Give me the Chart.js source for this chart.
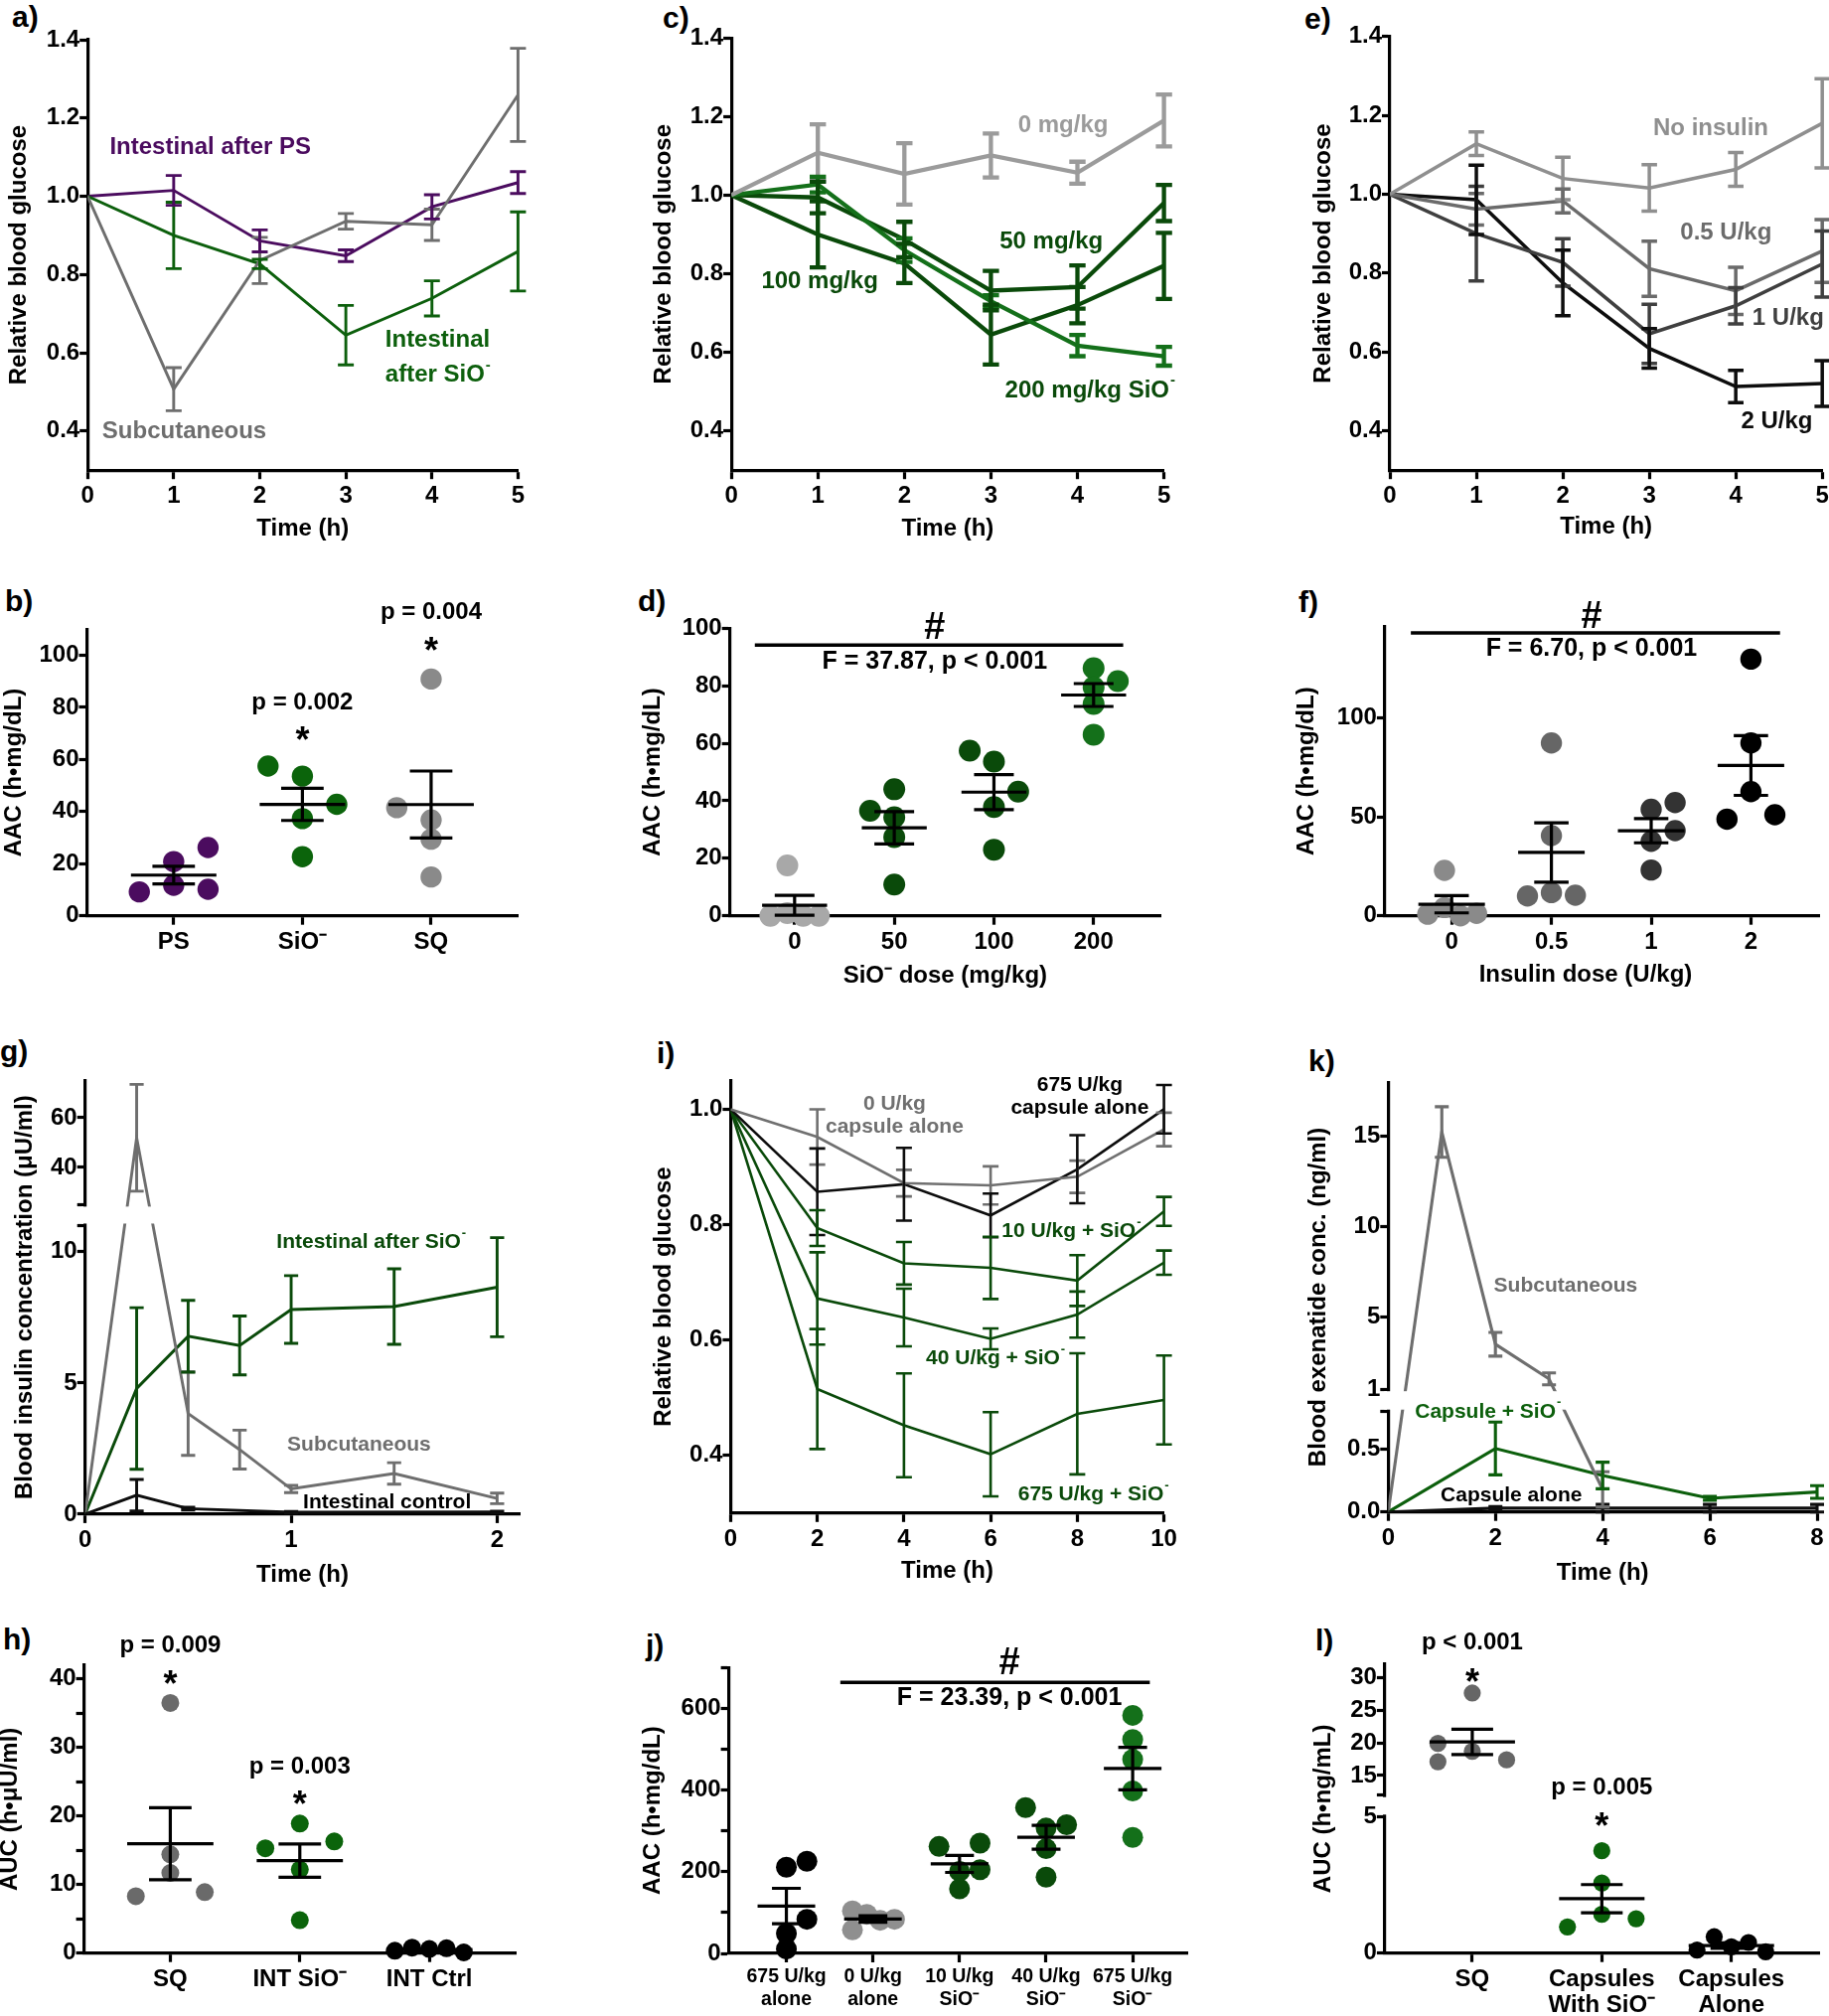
<!DOCTYPE html>
<html>
<head>
<meta charset="utf-8">
<script src="https://cdn.jsdelivr.net/npm/chart.js@4.4.1/dist/chart.umd.min.js"></script>
<style>
  body { margin: 0; background: #fff; width: 1841px; height: 2029px; position: relative; overflow: hidden; }
  canvas { position: absolute; }
  .tag { position: absolute; font: bold 30px "Liberation Sans", Arial, sans-serif; line-height: 30px; color: #000; }
</style>
</head>
<body>
<div class="tag" style="left:12px;top:2px">a)</div>
<div class="tag" style="left:5px;top:590px">b)</div>
<div class="tag" style="left:667px;top:3px">c)</div>
<div class="tag" style="left:642px;top:590px">d)</div>
<div class="tag" style="left:1313px;top:4px">e)</div>
<div class="tag" style="left:1307px;top:591px">f)</div>
<div class="tag" style="left:0px;top:1043px">g)</div>
<div class="tag" style="left:3px;top:1635px">h)</div>
<div class="tag" style="left:661px;top:1045px">i)</div>
<div class="tag" style="left:650px;top:1641px">j)</div>
<div class="tag" style="left:1317px;top:1053px">k)</div>
<div class="tag" style="left:1324px;top:1636px">l)</div>

<script>
const FONT = '"Liberation Sans", Arial, Helvetica, sans-serif';

// ---------- a) relative blood glucose, route comparison ----------
const aTime = [0, 1, 2, 3, 4, 5];
const aPS = [1, 1.015, 0.886, 0.848, 0.973, 1.035];
const aPSErr = [0, 0.038, 0.028, 0.015, 0.031, 0.028];
const aSiO = [1, 0.900, 0.827, 0.645, 0.739, 0.859];
const aSiOErr = [0, 0.085, 0.012, 0.076, 0.045, 0.101];
const aSQ = [1, 0.507, 0.836, 0.936, 0.927, 1.259];
const aSQErr = [0, 0.055, 0.059, 0.020, 0.040, 0.119];

// ---------- c) SiO- dose ----------
const cTime = [0, 1, 2, 3, 4, 5];
const c0 = [1, 1.108, 1.054, 1.101, 1.057, 1.190];
const c0Err = [0, 0.072, 0.078, 0.056, 0.028, 0.066];
const c50 = [1, 0.994, 0.887, 0.757, 0.766, 0.980];
const c50Err = [0, 0.040, 0.045, 0.050, 0.055, 0.046];
const c100 = [1, 0.900, 0.826, 0.645, 0.720, 0.820];
const c100Err = [0, 0.084, 0.050, 0.076, 0.046, 0.084];
const c200 = [1, 1.027, 0.860, 0.730, 0.617, 0.590];
const c200Err = [0, 0.020, 0.030, 0.015, 0.027, 0.024];

// ---------- e) insulin dose ----------
const eTime = [0, 1, 2, 3, 4, 5];
const eNone = [1, 1.128, 1.040, 1.016, 1.063, 1.180];
const eNoneErr = [0, 0.030, 0.054, 0.059, 0.043, 0.113];
const e05 = [1, 0.962, 0.983, 0.811, 0.755, 0.856];
const e05Err = [0, 0.040, 0.030, 0.070, 0.060, 0.080];
const e1 = [1, 0.900, 0.827, 0.646, 0.717, 0.823];
const e1Err = [0, 0.120, 0.060, 0.075, 0.046, 0.084];
const e2 = [1, 0.986, 0.775, 0.609, 0.512, 0.520];
const e2Err = [0, 0.088, 0.083, 0.050, 0.041, 0.058];

const glucoseTicks = [0.4, 0.6, 0.8, 1.0, 1.2, 1.4];
const hourTicks5 = [0, 1, 2, 3, 4, 5];

// ---------- b) AAC by route ----------
const bCats = ['PS', 'SiO⁻', 'SQ'];
const bPS = [9.2, 20.8, 11.7, 26.2, 10.2];
const bSiO = [57.5, 53.6, 37.3, 42.8, 22.7];
const bSQ = [90.9, 41.5, 36.8, 29.4, 14.9];
const bTicks = [0, 20, 40, 60, 80, 100];

// ---------- d) AAC by SiO- dose ----------
const dCats = ['0', '50', '100', '200'];
const d0 = [17.5, 0, 0.9, 0, 0];
const d50 = [36.5, 44.0, 34.3, 27.4, 10.9];
const d100 = [57.4, 53.6, 43.2, 37.8, 23.0];
const d200 = [86.1, 81.6, 79.5, 73.7, 63.0];
const dTicks = [0, 20, 40, 60, 80, 100];

// ---------- f) AAC by insulin dose ----------
const fCats = ['0', '0.5', '1', '2'];
const f0 = [22.9, 0.8, 4.2, 0, 1.2];
const f05 = [87.3, 40.5, 11.7, 10.0, 10.4];
const f1 = [53.8, 57.2, 43.0, 37.6, 23.1];
const f2 = [129.6, 87.3, 62.7, 48.8, 51.0];
const fTicks = [0, 50, 100];

// ---------- g) blood insulin ----------
const gTime = [0, 0.25, 0.5, 0.75, 1, 1.5, 2];
const gSiO = [0, 4.79, 6.78, 6.43, 7.80, 7.91, 8.65];
const gSiOErr = [0, 3.08, 1.37, 1.12, 1.29, 1.44, 1.89];
const gSQ = [0, 51.9, 3.83, 2.46, 0.96, 1.55, 0.60];
const gSQErr = [0, 21.5, 1.59, 0.74, 0.14, 0.41, 0.20];
const gCtrlTime = [0, 0.25, 0.5, 1, 2];
const gCtrl = [0, 0.72, 0.21, 0.07, 0.08];
const gCtrlErr = [0, 0.60, 0.05, 0.03, 0.03];
const gTicks = [[0, '0'], [5, '5'], [10, '10'], [11, ''], [25, ''], [40, '40'], [60, '60']];

// ---------- h) insulin AUC ----------
const hCats = ['SQ', 'INT SiO⁻', 'INT Ctrl'];
const hSQ = [36.5, 14.4, 11.7, 8.3, 8.9];
const hSiO = [18.9, 16.3, 15.3, 12.2, 4.8];
const hCtrl = [0.35, 0.8, 0.6, 0.7, 0.1];
const hTicks = [[0, '0'], [5, ''], [10, '10'], [15, ''], [20, '20'], [25, ''], [30, '30'], [35, ''], [40, '40']];

// ---------- i) capsules, blood glucose ----------
const iTime = [0, 2, 4, 6, 8, 10];
const iAlone0 = [1, 0.952, 0.872, 0.868, 0.883, 0.965];
const iAlone0Err = [0, 0.048, 0.023, 0.033, 0.028, 0.029];
const iAlone675 = [1, 0.857, 0.870, 0.816, 0.896, 1.000];
const iAlone675Err = [0, 0.075, 0.063, 0.038, 0.059, 0.042];
const iSiO10 = [1, 0.794, 0.733, 0.725, 0.703, 0.823];
const iSiO10Err = [0, 0.031, 0.037, 0.054, 0.044, 0.025];
const iSiO40 = [1, 0.672, 0.639, 0.602, 0.644, 0.734];
const iSiO40Err = [0, 0.080, 0.050, 0.018, 0.040, 0.021];
const iSiO675 = [1, 0.515, 0.452, 0.402, 0.472, 0.496];
const iSiO675Err = [0, 0.104, 0.090, 0.073, 0.105, 0.077];

// ---------- j) capsule AAC ----------
const jCats = [['675 U/kg', 'alone'], ['0 U/kg', 'alone'], ['10 U/kg', 'SiO⁻'], ['40 U/kg', 'SiO⁻'], ['675 U/kg', 'SiO⁻']];
const jAlone675 = [211, 225.7, 83.6, 48.7, 10.6];
const jAlone0 = [104, 57.6, 95.8, 81.2, 83.6];
const jSiO10 = [262, 270, 205, 201, 158];
const jSiO40 = [357, 307, 315, 256.5, 186.7];
const jSiO675 = [583, 523.7, 475, 397.8, 284];
const jTicks = [[0, '0'], [100, ''], [200, '200'], [300, ''], [400, '400'], [500, ''], [600, '600'], [700, '']];

// ---------- k) exenatide ----------
const kSQTime = [0, 1, 2, 3, 4];
const kSQ = [0, 15.24, 3.49, 1.57, 0.18];
const kSQErr = [0, 1.40, 0.66, 0.33, 0.14];
const kTime = [0, 2, 4, 6, 8];
const kSiO = [0, 0.506, 0.291, 0.109, 0.159];
const kSiOErr = [0, 0.21, 0.106, 0.015, 0.05];
const kAlone = [0, 0.03, 0.03, 0.03, 0.03];
const kAloneErr = [0, 0.012, 0.03, 0.03, 0.03];
const kTicks = [[0, '0.0'], [0.5, '0.5'], [0.8, ''], [1, '1'], [5, '5'], [10, '10'], [15, '15']];

// ---------- l) exenatide AUC ----------
const lCats = ['SQ', ['Capsules', 'With SiO⁻'], ['Capsules', 'Alone']];
const lSQ = [27.6, 19.9, 18.7, 17.1, 17.4];
const lSiO = [3.75, 2.57, 1.42, 0.96, 1.26];
const lAlone = [0.11, 0.6, 0.23, 0.39, 0.05];
const lTicks = [[0, '0'], [5, '5'], [12, ''], [15, '15'], [20, '20'], [25, '25'], [30, '30']];

// horizontal spread of the dots in each group (slot units, layout only)
const spreadB = [[-1, 0, 0, 1, 1], [-1, 0, 0, 1, 0], [0, -1, 0, 0, 0]];
const spreadD = [[-0.3, -1, -0.3, 0.35, 1], [-1, 0, 0, 0, 0], [-1, 0, 1, 0, 0], [0, 1, 0, 0, 0]];
const spreadF = [[-0.3, -1, -0.3, 0.37, 1.04], [0, 0, 0, -1, 1], [0, 1, 1, 0, 0], [0, 0, 0, -1, 1]];
const spreadH = [[0, 0, 0, -1, 1], [0, 1, -1, 0, 0], [-1, -0.5, 0, 0.5, 1]];
const spreadJ = [[0, 1, 1, 0, 0], [-1, -1, -0.3, 0.35, 1.05], [-1, 1, 1, 0, 0], [-1, 0, 1, 0, 0], [0, 0, 0, 0, 0]];
const spreadL = [[0, -1, 0, -1, 1], [0, 0, 0, -1, 1], [-1, -0.5, 0, 0.5, 1]];

// colours
const PURPLE = '#4b0c5f';
const GREEN = '#0c5f0c';
const GREEN_D = '#0a4a0a';
const GREEN_B = '#14701a';

const TICK = 24, TITLE = 24, NOTE = 24;

// ---------- broken y axis ----------
class BrokenScale extends Chart.LinearScale {
  getPixelForValue(v) {
    const b = this.chart.canvas._brk;
    const h = this.bottom - this.top;
    const lowH = h * b.lowFrac, highH = h * b.highFrac;
    if (v <= b.lowMax) return this.bottom - (v - this.min) / (b.lowMax - this.min) * lowH;
    if (v >= b.highMin) return this.top + (this.max - v) / (this.max - b.highMin) * highH;
    const g0 = this.bottom - lowH, g1 = this.top + highH;
    return g0 - (v - b.lowMax) / (b.highMin - b.lowMax) * (g0 - g1);
  }
  getValueForPixel(p) {
    const b = this.chart.canvas._brk;
    const h = this.bottom - this.top;
    const lowH = h * b.lowFrac, highH = h * b.highFrac;
    if (p >= this.bottom - lowH) return this.min + (this.bottom - p) / lowH * (b.lowMax - this.min);
    if (p <= this.top + highH) return this.max - (p - this.top) / highH * (this.max - b.highMin);
    return b.lowMax;
  }
}
BrokenScale.id = 'broken';
BrokenScale.defaults = Chart.LinearScale.defaults;
Chart.register(BrokenScale);

// ---------- drawing helpers (error bars, mean +- SEM, notes) ----------
const decoPlugin = {
  id: 'deco',
  afterDatasetsDraw(chart) {
    const o = chart.canvas._deco || {};
    const ctx = chart.ctx, X = chart.scales.x, Y = chart.scales.y;
    const area = chart.chartArea;
    ctx.save();
    ctx.lineCap = 'butt';
    chart.data.datasets.forEach(ds => {
      if (!ds.err) return;
      ctx.strokeStyle = ds.borderColor;
      ctx.lineWidth = ds.borderWidth;
      const cap = o.cap || 7;
      ds.data.forEach((p, i) => {
        const e = ds.err[i];
        if (!e) return;
        const x = X.getPixelForValue(p.x);
        const y1 = Y.getPixelForValue(p.y + e), y2 = Y.getPixelForValue(p.y - e);
        ctx.beginPath();
        ctx.moveTo(x, y1); ctx.lineTo(x, y2);
        ctx.moveTo(x - cap, y1); ctx.lineTo(x + cap, y1);
        ctx.moveTo(x - cap, y2); ctx.lineTo(x + cap, y2);
        ctx.stroke();
      });
    });
    chart.data.datasets.forEach(ds => {
      if (ds.cat === undefined) return;
      const vals = ds.data.map(p => p.y);
      const n = vals.length;
      const m = vals.reduce((a, b) => a + b, 0) / n;
      const sd = Math.sqrt(vals.reduce((a, b) => a + (b - m) * (b - m), 0) / (n - 1));
      const sem = sd / Math.sqrt(n);
      const cx = X.getPixelForValue(ds.cat);
      const ym = Y.getPixelForValue(m), yt = Y.getPixelForValue(m + sem), yb = Y.getPixelForValue(m - sem);
      ctx.strokeStyle = '#000';
      ctx.lineWidth = 3.2;
      ctx.beginPath();
      ctx.moveTo(cx - o.half, ym); ctx.lineTo(cx + o.half, ym);
      ctx.moveTo(cx, yt); ctx.lineTo(cx, yb);
      ctx.moveTo(cx - o.capM, yt); ctx.lineTo(cx + o.capM, yt);
      ctx.moveTo(cx - o.capM, yb); ctx.lineTo(cx + o.capM, yb);
      ctx.stroke();
    });
    const b = chart.canvas._brk;
    if (b) {
      const g1 = Y.getPixelForValue(b.highMin) + 2, g0 = Y.getPixelForValue(b.lowMax) - 2;
      ctx.fillStyle = '#fff';
      ctx.fillRect(area.left - 4, g1, area.right - area.left + 12, g0 - g1);
    }
    (o.bars || []).forEach(s => {
      const y = Y.getPixelForValue(s.y);
      ctx.strokeStyle = '#000';
      ctx.lineWidth = 3.5;
      ctx.beginPath();
      ctx.moveTo(X.getPixelForValue(s.x1), y);
      ctx.lineTo(X.getPixelForValue(s.x2), y);
      ctx.stroke();
    });
    (o.notes || []).forEach(n => {
      const s = n.s || NOTE;
      const main = `bold ${s}px ${FONT}`, sup = `bold ${Math.round(s * 0.62)}px ${FONT}`;
      ctx.font = main;
      const w = ctx.measureText(n.t).width;
      let sw = 0;
      if (n.sup) { ctx.font = sup; sw = ctx.measureText('-').width + 1; }
      let px = X.getPixelForValue(n.x);
      const py = Y.getPixelForValue(n.y) + (n.dy || 0);
      if (n.a === 'center') px -= (w + sw) / 2;
      else if (n.a === 'right') px -= w + sw;
      ctx.textAlign = 'left';
      ctx.textBaseline = 'middle';
      ctx.fillStyle = n.c || '#000';
      ctx.font = main;
      ctx.fillText(n.t, px, py);
      if (n.sup) { ctx.font = sup; ctx.fillText('-', px + w + 1, py - s * 0.42); }
    });
    ctx.restore();
  }
};

function lookup(list, v) {
  const t = list.find(t => Math.abs(t[0] - v) < 1e-9);
  return t ? t[1] : '';
}

function axisBase() {
  return {
    grid: { display: true, drawOnChartArea: false, drawTicks: true, tickLength: 9, tickWidth: 3.2, tickColor: '#000' },
    border: { display: true, width: 3.2, color: '#000' },
  };
}

function yScale(o) {
  const s = Object.assign(axisBase(), {
    type: o.brk ? 'broken' : 'linear',
    position: 'left',
    min: o.min, max: o.max,
    afterFit: sc => { sc.width = o.w; },
    afterBuildTicks: sc => { sc.ticks = o.ticks.map(t => ({ value: t[0] })); },
    ticks: { autoSkip: false, padding: 0, color: '#000', font: { family: FONT, size: TICK, weight: 'bold' },
             callback: v => lookup(o.ticks, v) },
    title: { display: true, text: o.title, color: '#000', padding: 0, font: { family: FONT, size: TITLE, weight: 'bold' } }
  });
  s.grid.tickLength = 8;
  return s;
}

function xScale(o) {
  return Object.assign(axisBase(), {
    type: 'linear',
    position: 'bottom',
    min: o.min, max: o.max,
    afterFit: sc => { sc.height = o.h; },
    afterBuildTicks: sc => { sc.ticks = o.ticks.map(t => ({ value: t[0] })); },
    ticks: { autoSkip: false, maxRotation: 0, padding: o.pad ?? 3, color: '#000',
             font: { family: FONT, size: o.fs || TICK, weight: 'bold', lineHeight: o.lh || 1.2 },
             callback: v => lookup(o.ticks, v) },
    title: { display: !!o.title, text: o.title, color: '#000', padding: 0, font: { family: FONT, size: TITLE, weight: 'bold' } }
  });
}

function panel(box, datasets, xo, yo, deco, brk) {
  const half = TITLE * 1.2 / 2;
  const cl = Math.round(box.tx - half);
  const ct = Math.round(box.T - (box.pt || 22));
  const cr = Math.round(box.R + (box.pr || 22));
  const cb = box.ty != null ? Math.round(box.ty + half) : Math.round(box.B + (box.xh || 48));
  const cv = document.createElement('canvas');
  cv.width = cr - cl;
  cv.height = cb - ct;
  cv.style.left = cl + 'px';
  cv.style.top = ct + 'px';
  cv._deco = deco;
  cv._brk = brk;
  document.body.appendChild(cv);
  xo.h = cb - box.B;
  yo.w = box.L - cl;
  yo.brk = brk;
  return new Chart(cv, {
    type: 'line',
    data: { datasets },
    options: {
      responsive: false, animation: false, devicePixelRatio: 1, events: [],
      layout: { padding: { left: 0, top: box.T - ct, right: cr - box.R, bottom: 0 } },
      plugins: { legend: { display: false }, tooltip: { enabled: false } },
      scales: { x: xScale(xo), y: yScale(yo) }
    },
    plugins: [decoPlugin]
  });
}

function line(xs, ys, err, color, w) {
  return { data: xs.map((x, i) => ({ x, y: ys[i] })), err, borderColor: color, backgroundColor: color,
           borderWidth: w, pointRadius: 0, tension: 0, fill: false };
}

function dots(vals, spread, cat, slotW, color, r) {
  return { type: 'scatter', data: vals.map((v, i) => ({ x: cat + spread[i] * slotW, y: v })), cat,
           pointRadius: r, pointHoverRadius: r, backgroundColor: color, borderWidth: 0, clip: false };
}

const ticksOf = arr => arr.map(v => [v, String(v)]);
const glucose = glucoseTicks.map(v => [v, v.toFixed(1)]);
const catTicks = cats => cats.map((c, i) => [i + 1, c]);

// ===== a =====
panel({ L: 88.2, T: 40, R: 521.4, B: 473.2, tx: 19.6, ty: 532.1 }, [
  line(aTime, aSQ, aSQErr, '#6e6e6e', 2.9),
  line(aTime, aSiO, aSiOErr, GREEN, 2.9),
  line(aTime, aPS, aPSErr, PURPLE, 2.9),
], { min: 0, max: 5, ticks: ticksOf(hourTicks5), title: 'Time (h)' },
   { min: 0.3, max: 1.4, ticks: glucose, title: 'Relative blood glucose' },
   { cap: 8, notes: [
     { t: 'Intestinal after PS', x: 0.256, y: 1.126, c: PURPLE },
     { t: 'Intestinal', x: 3.458, y: 0.633, c: GREEN },
     { t: 'after SiO', x: 3.458, y: 0.543, c: GREEN, sup: true },
     { t: 'Subcutaneous', x: 0.169, y: 0.398, c: '#6e6e6e' },
   ] });

// ===== c =====
panel({ L: 736.1, T: 38.2, R: 1171.6, B: 473.2, tx: 668.2, ty: 532.1 }, [
  line(cTime, c0, c0Err, '#9b9b9b', 4.3),
  line(cTime, c200, c200Err, GREEN_B, 4.3),
  line(cTime, c50, c50Err, GREEN_D, 4.3),
  line(cTime, c100, c100Err, GREEN_D, 4.3),
], { min: 0, max: 5, ticks: ticksOf(hourTicks5), title: 'Time (h)' },
   { min: 0.3, max: 1.4, ticks: glucose, title: 'Relative blood glucose' },
   { cap: 8.2, notes: [
     { t: '0 mg/kg', x: 3.314, y: 1.177, c: '#9b9b9b' },
     { t: '50 mg/kg', x: 3.101, y: 0.882, c: GREEN_D },
     { t: '100 mg/kg', x: 0.348, y: 0.779, c: GREEN_D },
     { t: '200 mg/kg SiO', x: 3.163, y: 0.503, c: GREEN_D, sup: true },
   ] });

// ===== e =====
panel({ L: 1399, T: 36.8, R: 1834.2, B: 473.2, tx: 1332.8, ty: 530.4, pr: 12 }, [
  line(eTime, eNone, eNoneErr, '#8f8f8f', 3.5),
  line(eTime, e05, e05Err, '#6b6b6b', 3.5),
  line(eTime, e1, e1Err, '#3f3f3f', 3.5),
  line(eTime, e2, e2Err, '#0d0d0d', 3.5),
], { min: 0, max: 5, ticks: ticksOf(hourTicks5), title: 'Time (h)' },
   { min: 0.3, max: 1.4, ticks: glucose, title: 'Relative blood glucose' },
   { cap: 7.8, notes: [
     { t: 'No insulin', x: 3.045, y: 1.166, c: '#8f8f8f' },
     { t: '0.5 U/kg', x: 3.358, y: 0.902, c: '#6b6b6b' },
     { t: '1 U/kg', x: 4.191, y: 0.686, c: '#3f3f3f' },
     { t: '2 U/kg', x: 4.06, y: 0.422, c: '#0d0d0d' },
   ] });

// ===== b =====
panel({ L: 87.5, T: 633.3, R: 521.4, B: 921.7, tx: 14.3, pt: 50, xh: 48 }, [
  dots(bPS, spreadB[0], 1, 0.267, PURPLE, 10.7),
  dots(bSiO, spreadB[1], 2, 0.267, '#0b640b', 10.7),
  dots(bSQ, spreadB[2], 3, 0.267, '#8a8a8a', 10.7),
], { min: 0.326, max: 3.675, ticks: catTicks(bCats) },
   { min: 0, max: 110, ticks: ticksOf(bTicks), title: 'AAC (h•mg/dL)' },
   { half: 43, capM: 21.4, notes: [
     { t: 'p = 0.002', x: 2, y: 81.9, a: 'center' },
     { t: '*', x: 2, y: 69.6, a: 'center', s: 36, dy: 8 },
     { t: 'p = 0.004', x: 3, y: 116.4, a: 'center' },
     { t: '*', x: 3, y: 104.1, a: 'center', s: 36, dy: 8 },
   ] });

// ===== d =====
panel({ L: 734.7, T: 632.3, R: 1168, B: 921.7, tx: 657.3, ty: 983, pt: 50 }, [
  dots(d0, spreadD[0], 1, 0.243, '#a8a8a8', 11),
  dots(d50, spreadD[1], 2, 0.243, GREEN_D, 11),
  dots(d100, spreadD[2], 3, 0.243, GREEN_D, 11),
  dots(d200, spreadD[3], 4, 0.243, GREEN_B, 11),
], { min: 0.351, max: 4.67, ticks: catTicks(dCats), title: 'SiO⁻ dose (mg/kg)' },
   { min: 0, max: 100, ticks: ticksOf(dTicks), title: 'AAC (h•mg/dL)' },
   { half: 32.7, capM: 20,
     bars: [{ x1: 0.601, x2: 4.297, y: 94.1 }],
     notes: [
       { t: '#', x: 2.405, y: 99.8, a: 'center', s: 38 },
       { t: 'F = 37.87, p < 0.001', x: 2.405, y: 88.4, a: 'center', s: 25 },
     ] });

// ===== f =====
panel({ L: 1393.9, T: 630.7, R: 1831.4, B: 921.7, tx: 1315.5, ty: 981.7, pt: 50, pr: 12 }, [
  dots(f0, spreadF[0], 1, 0.24, '#8a8a8a', 10.7),
  dots(f05, spreadF[1], 2, 0.24, '#666666', 10.7),
  dots(f1, spreadF[2], 3, 0.24, '#333333', 10.7),
  dots(f2, spreadF[3], 4, 0.24, '#000000', 10.7),
], { min: 0.33, max: 4.687, ticks: catTicks(fCats), title: 'Insulin dose (U/kg)     ' },
   { min: 0, max: 146, ticks: ticksOf(fTicks), title: 'AAC (h•mg/dL)' },
   { half: 33.5, capM: 17.3,
     bars: [{ x1: 0.591, x2: 4.292, y: 142.9 }],
     notes: [
       { t: '#', x: 2.402, y: 150.5, a: 'center', s: 38 },
       { t: 'F = 6.70, p < 0.001', x: 2.402, y: 134.6, a: 'center', s: 25 },
     ] });

// ===== g =====
panel({ L: 85.7, T: 1087.4, R: 523.2, B: 1523.9, tx: 25, ty: 1585.7 }, [
  line(gCtrlTime, gCtrl, gCtrlErr, '#0d0d0d', 2.9),
  line(gTime, gSQ, gSQErr, '#6e6e6e', 2.9),
  line(gTime, gSiO, gSiOErr, GREEN_D, 2.9),
], { min: 0, max: 2.11, ticks: ticksOf([0, 1, 2]), title: 'Time (h)' },
   { min: 0, max: 75, ticks: gTicks, title: 'Blood insulin concentration (μU/ml)' },
   { cap: 7.1, notes: [
     { t: 'Intestinal after SiO', x: 0.929, y: 10.38, c: GREEN_D, s: 21, sup: true },
     { t: 'Subcutaneous', x: 0.981, y: 2.65, c: '#6e6e6e', s: 21 },
     { t: 'Intestinal control', x: 1.058, y: 0.46, c: '#000', s: 21 },
   ] },
   { lowMax: 11, highMin: 25, lowFrac: 0.6654, highFrac: 0.2863 });

// ===== i =====
panel({ L: 735.4, T: 1087.4, R: 1171.6, B: 1522.8, tx: 668.2, ty: 1582 }, [
  line(iTime, iAlone0, iAlone0Err, '#707070', 2.6),
  line(iTime, iAlone675, iAlone675Err, '#0d0d0d', 2.6),
  line(iTime, iSiO10, iSiO10Err, GREEN_D, 2.6),
  line(iTime, iSiO40, iSiO40Err, GREEN_D, 2.6),
  line(iTime, iSiO675, iSiO675Err, GREEN_D, 2.6),
], { min: 0, max: 10, ticks: ticksOf([0, 2, 4, 6, 8, 10]), title: 'Time (h)' },
   { min: 0.3, max: 1.05, ticks: glucoseTicks.slice(0, 4).map(v => [v, v.toFixed(1)]), title: 'Relative blood glucose' },
   { cap: 8, notes: [
     { t: '0 U/kg', x: 3.783, y: 1.0096, c: '#707070', s: 21, a: 'center' },
     { t: 'capsule alone', x: 3.783, y: 0.969, c: '#707070', s: 21, a: 'center' },
     { t: '675 U/kg', x: 8.058, y: 1.042, c: '#000', s: 21, a: 'center' },
     { t: 'capsule alone', x: 8.058, y: 1.002, c: '#000', s: 21, a: 'center' },
     { t: '10 U/kg + SiO', x: 6.258, y: 0.789, c: GREEN_D, s: 21, sup: true },
     { t: '40 U/kg + SiO', x: 4.508, y: 0.568, c: GREEN_D, s: 21, sup: true },
     { t: '675 U/kg + SiO', x: 6.633, y: 0.332, c: GREEN_D, s: 21, sup: true },
   ] });

// ===== k =====
panel({ L: 1397.3, T: 1089.2, R: 1829, B: 1521.7, tx: 1326.9, ty: 1583.1, pr: 12 }, [
  line(kTime, kAlone, kAloneErr, '#0d0d0d', 3.1),
  line(kSQTime, kSQ, kSQErr, '#6e6e6e', 3.1),
  line(kTime, kSiO, kSiOErr, GREEN, 3.1),
], { min: 0, max: 8, ticks: ticksOf([0, 2, 4, 6, 8]), title: 'Time (h)' },
   { min: 0, max: 18, ticks: kTicks, title: 'Blood exenatide conc. (ng/ml)' },
   { cap: 7, notes: [
     { t: 'Subcutaneous', x: 1.97, y: 6.73, c: '#6e6e6e', s: 21 },
     { t: 'Capsule + SiO', x: 0.499, y: 0.8, c: GREEN, s: 21, sup: true },
     { t: 'Capsule alone', x: 0.978, y: 0.13, c: '#000', s: 21 },
   ] },
   { lowMax: 0.8, highMin: 1, lowFrac: 0.2335, highFrac: 0.7144 });

// ===== h =====
panel({ L: 84.6, T: 1676, R: 519.6, B: 1965.7, tx: 10.7, pt: 50, xh: 50 }, [
  dots(hSQ, spreadH[0], 1, 0.266, '#6a6a6a', 9),
  dots(hSiO, spreadH[1], 2, 0.266, '#0b640b', 9),
  dots(hCtrl, spreadH[2], 3, 0.266, '#000000', 9),
], { min: 0.334, max: 3.671, ticks: catTicks(hCats) },
   { min: 0, max: 42, ticks: hTicks, title: 'AUC (h•μU/ml)' },
   { half: 43.4, capM: 21.4, notes: [
     { t: 'p = 0.009', x: 1, y: 44.9, a: 'center' },
     { t: '*', x: 1, y: 40.1, a: 'center', s: 36, dy: 8 },
     { t: 'p = 0.003', x: 2, y: 27.1, a: 'center' },
     { t: '*', x: 2, y: 22.6, a: 'center', s: 36, dy: 8 },
   ] });

// ===== j =====
panel({ L: 733.6, T: 1678.3, R: 1195, B: 1966, tx: 657.3, pt: 50, pr: 12, xh: 63 }, [
  dots(jAlone675, spreadJ[0], 1, 0.237, '#000000', 10.5),
  dots(jAlone0, spreadJ[1], 2, 0.237, '#8f8f8f', 10.5),
  dots(jSiO10, spreadJ[2], 3, 0.237, GREEN_D, 10.5),
  dots(jSiO40, spreadJ[3], 4, 0.237, GREEN_D, 10.5),
  dots(jSiO675, spreadJ[4], 5, 0.237, GREEN_B, 10.5),
], { min: 0.335, max: 5.63, ticks: catTicks(jCats), fs: 19.5, lh: 1.2 },
   { min: 0, max: 700, ticks: jTicks, title: 'AAC (h•mg/dL)' },
   { half: 29, capM: 14.5,
     bars: [{ x1: 1.623, x2: 5.198, y: 663.4 }],
     notes: [
       { t: '#', x: 3.577, y: 709.8, a: 'center', s: 38 },
       { t: 'F = 23.39, p < 0.001', x: 3.577, y: 624.4, a: 'center', s: 25 },
     ] });

// ===== l =====
panel({ L: 1393.9, T: 1675, R: 1831.4, B: 1965.7, tx: 1332.8, pt: 50, pr: 12, xh: 63 }, [
  dots(lSQ, spreadL[0], 1, 0.265, '#666666', 8.6),
  dots(lSiO, spreadL[1], 2, 0.265, '#0b640b', 8.6),
  dots(lAlone, spreadL[2], 3, 0.265, '#000000', 8.6),
], { min: 0.325, max: 3.68, ticks: catTicks(lCats), lh: 1.08, pad: 5 },
   { min: 0, max: 32, ticks: lTicks, title: 'AUC (h•ng/mL)' },
   { half: 43, capM: 21, notes: [
     { t: 'p < 0.001', x: 1, y: 35.3, a: 'center' },
     { t: '*', x: 1, y: 30.2, a: 'center', s: 36, dy: 8 },
     { t: 'p = 0.005', x: 2, y: 13.08, a: 'center' },
     { t: '*', x: 2, y: 4.88, a: 'center', s: 36, dy: 8 },
   ] },
   { lowMax: 5, highMin: 12, lowFrac: 0.4727, highFrac: 0.453 });
</script>
</body>
</html>
